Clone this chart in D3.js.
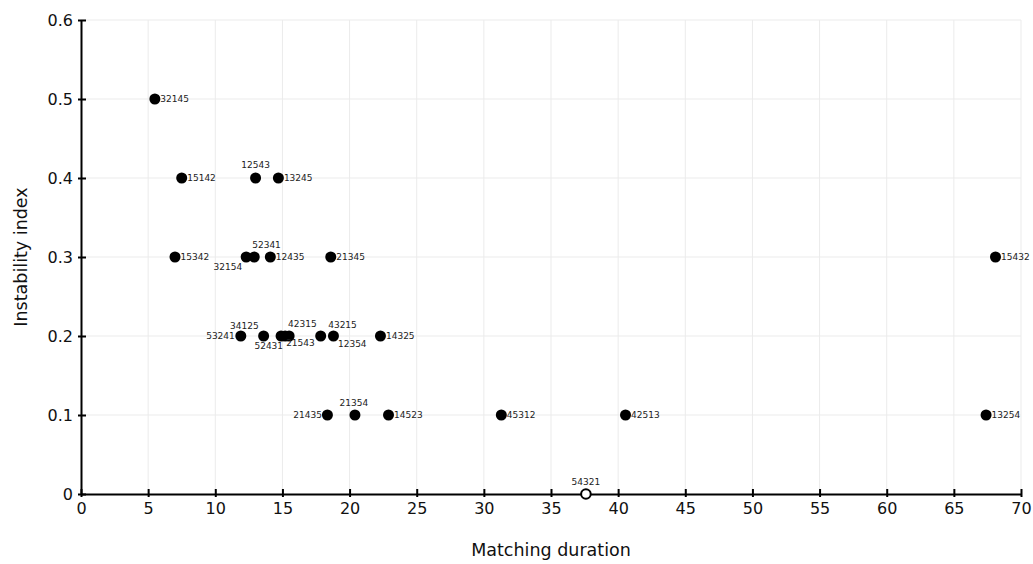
<!DOCTYPE html>
<html>
<head>
<meta charset="utf-8">
<script src="https://cdn.jsdelivr.net/npm/d3@7"></script>
<style>
  html, body { margin: 0; padding: 0; background: #fff; }
  svg { display: block; font-family: "DejaVu Sans", sans-serif; }
</style>
</head>
<body>
<svg id="chart" width="1033" height="564"></svg>
<script>
// ---- data ----
const labels = ["32145","15142","12543","13245","15342","32154","52341","12435","21345","15432",
                "53241","34125","52431","42315","21543","43215","12354","14325",
                "21435","21354","14523","45312","42513","13254","54321"];
const durations = [5.5,7.5,13.0,14.7,7.0,12.3,12.9,14.1,18.6,68.1,
                   11.9,13.6,14.9,15.2,15.5,17.85,18.8,22.3,
                   18.35,20.4,22.9,31.3,40.55,67.4,37.6];
const instability = [0.5,0.4,0.4,0.4,0.3,0.3,0.3,0.3,0.3,0.3,
                     0.2,0.2,0.2,0.2,0.2,0.2,0.2,0.2,
                     0.1,0.1,0.1,0.1,0.1,0.1,0];
const highlighted = ["54321"];
const xTicks = [0,5,10,15,20,25,30,35,40,45,50,55,60,65,70];
const yTicks = [0,0.1,0.2,0.3,0.4,0.5,0.6];
const xTitle = "Matching duration";
const yTitle = "Instability index";

const points = labels.map((l, i) => ({label: l, x: durations[i], y: instability[i]}));

// ---- layout ----
const W = 1033, H = 564;
const margin = {left: 81, right: 12, top: 20, bottom: 70};
const svg = d3.select("#chart");
const x = d3.scaleLinear().domain([0, 70]).range([margin.left, W - margin.right]);
const y = d3.scaleLinear().domain([0, 0.6]).range([H - margin.bottom, margin.top]);

// grid
const grid = svg.append("g").attr("stroke", "#ebebeb").attr("stroke-width", 1);
grid.selectAll("line.v").data(xTicks.filter(d => d > 0)).join("line")
  .attr("x1", d => x(d)).attr("x2", d => x(d))
  .attr("y1", y(0)).attr("y2", y(0.6));
grid.selectAll("line.h").data(yTicks.filter(d => d > 0)).join("line")
  .attr("y1", d => y(d)).attr("y2", d => y(d))
  .attr("x1", x(0)).attr("x2", x(70));

// axes
const xAxis = svg.append("g").attr("transform", `translate(0,${y(0)})`)
  .call(d3.axisBottom(x).tickValues(xTicks).tickFormat(d3.format("d")).tickSizeOuter(0));
const yAxis = svg.append("g").attr("transform", `translate(${x(0)},0)`)
  .call(d3.axisLeft(y).tickValues(yTicks).tickFormat(d => d === 0 ? "0" : d3.format(".1f")(d)).tickSizeOuter(0));

[xAxis, yAxis].forEach(a => {
  a.select(".domain").attr("stroke", "#000").attr("stroke-width", 2);
  a.selectAll(".tick line").attr("stroke", "#000").attr("stroke-width", 2);
  a.selectAll(".tick text").attr("font-size", 16).attr("fill", "#111")
    .attr("font-family", "DejaVu Sans, sans-serif");
});
xAxis.selectAll(".tick line").attr("y1", -5).attr("y2", 3);
xAxis.selectAll(".tick text").attr("y", 9);
yAxis.selectAll(".tick line").attr("x1", 5).attr("x2", -3);
yAxis.selectAll(".tick text").attr("x", -8);

// titles
svg.append("text").attr("x", (x(0) + x(70)) / 2).attr("y", 556)
  .attr("text-anchor", "middle").attr("font-size", 17.5).attr("fill", "#111").text(xTitle);
svg.append("text").attr("transform", `translate(27,${(y(0) + y(0.6)) / 2}) rotate(-90)`)
  .attr("text-anchor", "middle").attr("font-size", 17.5).attr("fill", "#111").text(yTitle);

// label placement (dx, dy, anchor) relative to the point
const place = {
  "12543": [0, -13, "middle"], "32154": [-4, 10, "end"], "52341": [-2, -12, "start"],
  "53241": [-6, 0, "end"], "34125": [-5, -10, "end"], "52431": [2, 10, "end"],
  "42315": [3, -12, "start"], "21543": [-3, 7, "start"], "43215": [7.5, -11, "start"],
  "12354": [4.5, 8, "start"], "21435": [-5.5, 0, "end"], "21354": [-1, -12, "middle"],
  "54321": [0, -12, "middle"]
};

const pts = svg.append("g");
pts.selectAll("circle").data(points).join("circle")
  .attr("cx", d => x(d.x)).attr("cy", d => y(d.y))
  .attr("r", d => highlighted.includes(d.label) ? 4.8 : 5.5)
  .attr("fill", d => highlighted.includes(d.label) ? "#fff" : "#000")
  .attr("stroke", "#000")
  .attr("stroke-width", d => highlighted.includes(d.label) ? 2 : 0);

pts.selectAll("text").data(points).join("text")
  .attr("x", d => x(d.x) + (place[d.label] ? place[d.label][0] : 5.5))
  .attr("y", d => y(d.y) + (place[d.label] ? place[d.label][1] : 0))
  .attr("text-anchor", d => place[d.label] ? place[d.label][2] : "start")
  .attr("dominant-baseline", "central")
  .attr("font-size", 9).attr("fill", "#222")
  .text(d => d.label);
</script>
</body>
</html>
